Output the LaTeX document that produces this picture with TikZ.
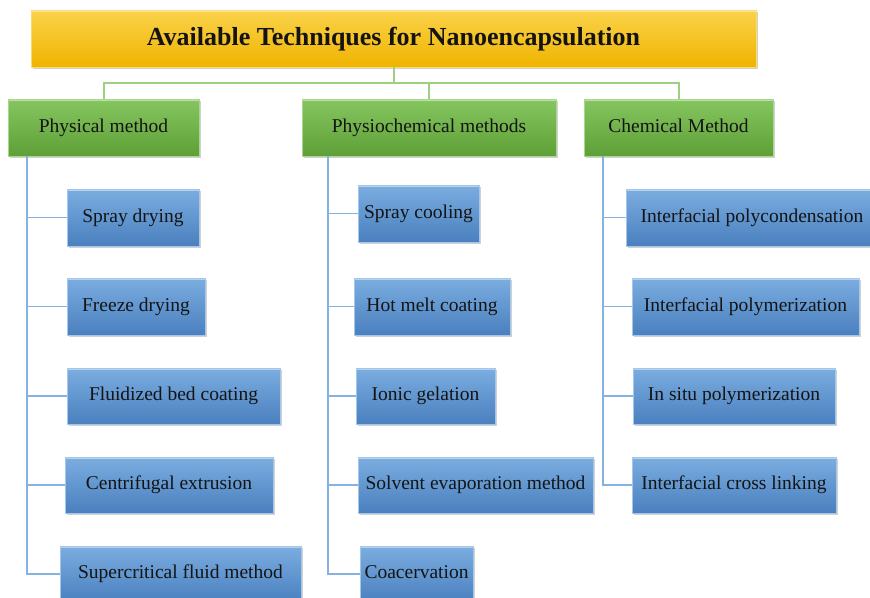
\documentclass[tikz,border=0pt]{standalone}
\usepackage{fontspec}
\setmainfont{Liberation Serif}
\usetikzlibrary{shadows}
\definecolor{ttop}{HTML}{FAD24A}
\definecolor{tbot}{HTML}{EFB400}
\definecolor{gtop}{HTML}{86C660}
\definecolor{gbot}{HTML}{5E9F37}
\definecolor{btop}{HTML}{7BADE0}
\definecolor{bbot}{HTML}{4A80BF}
\definecolor{gline}{HTML}{9DD07F}
\definecolor{bline}{HTML}{86B2E2}
\definecolor{txt}{HTML}{141414}
\tikzset{
  box/.style={inner sep=0pt, text=txt, font=\fontsize{19.5}{22}\selectfont,
    text height=13.5pt, text depth=4.5pt,
    drop shadow={shadow xshift=2pt, shadow yshift=-2pt, fill=black, opacity=0.18},
    path picture={\draw[white, opacity=0.45, line width=1.6pt]
      ([yshift=-1.6pt]path picture bounding box.north west) --
      ([yshift=-1.6pt]path picture bounding box.north east);}},
  titlebox/.style={box, top color=ttop, bottom color=tbot, draw=ttop!80!white,
    line width=0.6pt, font=\fontsize{26}{30}\bfseries\selectfont,
    text height=18pt, text depth=5pt},
  groupbox/.style={box, top color=gtop, bottom color=gbot, draw=gtop!70!white,
    line width=0.6pt},
  itembox/.style={box, top color=btop, bottom color=bbot, draw=btop!70!white,
    line width=0.6pt},
  gconn/.style={draw=gline, line width=2pt},
  bconn/.style={draw=bline, line width=1.8pt},
}
\begin{document}
\begin{tikzpicture}[x=1pt,y=-1pt]
\useasboundingbox (0,0) rectangle (870,597);
\clip (0,0) rectangle (870,597);

% title
\node[titlebox, minimum width=725, minimum height=57] (title) at (393.5,38.5)
  {Available Techniques for Nanoencapsulation};

% method groups
\node[groupbox, minimum width=191, minimum height=57] (phys) at (103.5,127.5) {Physical method};
\node[groupbox, minimum width=254, minimum height=57] (pchem) at (429,127.5) {Physiochemical methods};
\node[groupbox, minimum width=189, minimum height=57] (chem) at (678.5,127.5) {Chemical Method};

% physical techniques
\node[itembox, minimum width=132, minimum height=57] (p1) at (133,217.5) {Spray drying};
\node[itembox, minimum width=138, minimum height=57] (p2) at (136,306.5) {Freeze drying};
\node[itembox, minimum width=213, minimum height=56] (p3) at (173.5,396) {Fluidized bed coating};
\node[itembox, minimum width=208, minimum height=56] (p4) at (169,485) {Centrifugal extrusion};
\node[itembox, minimum width=241, minimum height=56] (p5) at (180.5,574) {Supercritical fluid method};

% physiochemical techniques
\node[itembox, minimum width=121, minimum height=57] (q1) at (418.5,213.5) {Spray cooling};
\node[itembox, minimum width=156, minimum height=57] (q2) at (432,306.5) {Hot melt coating};
\node[itembox, minimum width=139, minimum height=56] (q3) at (425.5,396) {Ionic gelation};
\node[itembox, minimum width=235, minimum height=56] (q4) at (475.5,485) {Solvent evaporation method};
\node[itembox, minimum width=113, minimum height=56] (q5) at (416.5,574) {Coacervation};

% chemical techniques
\node[itembox, minimum width=252, minimum height=57] (c1) at (752,217.5) {Interfacial polycondensation};
\node[itembox, minimum width=227, minimum height=57] (c2) at (745.5,306.5) {Interfacial polymerization};
\node[itembox, minimum width=202, minimum height=56] (c3) at (734,396) {In situ polymerization};
\node[itembox, minimum width=204, minimum height=56] (c4) at (734,485) {Interfacial cross linking};

% title to groups
\draw[gconn] (title.south) -- ++(0,16) coordinate (hub) -| (phys.north);
\draw[gconn] (hub) -| (pchem.north);
\draw[gconn] (hub) -| (chem.north);

% group spines
\coordinate (ps) at ([xshift=19pt]phys.south west);
\coordinate (qs) at ([xshift=26pt]pchem.south west);
\coordinate (cs) at ([xshift=19pt]chem.south west);

\foreach \n in {p1,p2,p3,p4,p5} \draw[bconn] (ps) |- (\n.west);
\foreach \n in {q1,q2,q3,q4,q5} \draw[bconn] (qs) |- (\n.west);
\foreach \n in {c1,c2,c3,c4} \draw[bconn] (cs) |- (\n.west);
\end{tikzpicture}
\end{document}
